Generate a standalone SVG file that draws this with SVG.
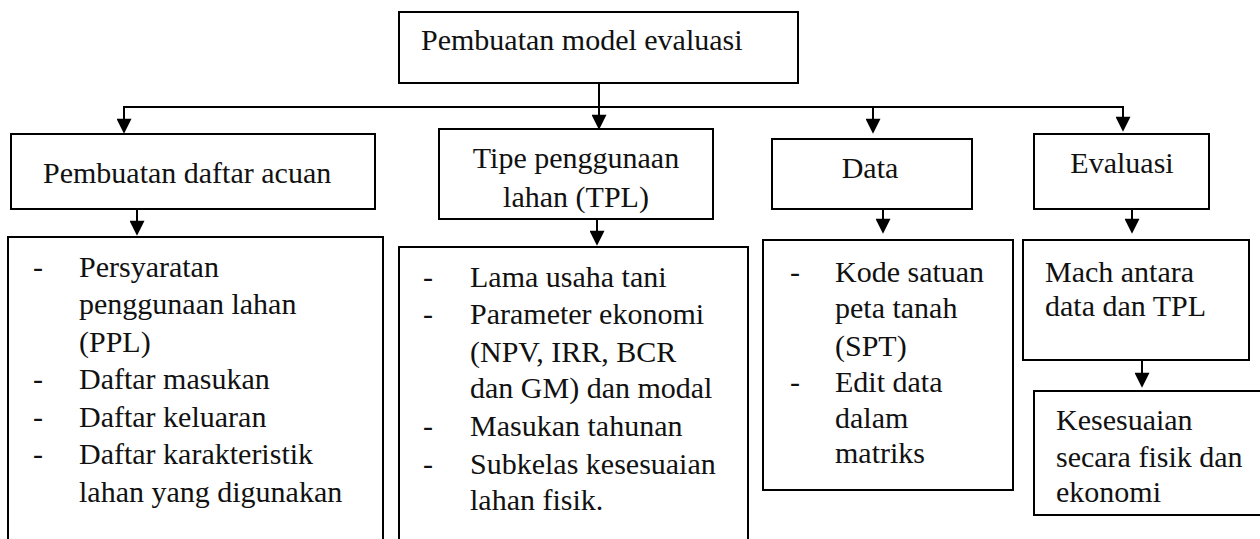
<svg xmlns="http://www.w3.org/2000/svg" width="1260" height="539" viewBox="0 0 1260 539">
<style>
  .box { fill: #ffffff; stroke: #000000; stroke-width: 2; }
  .t { font-family: "Liberation Serif", "Times New Roman", serif; font-size: 30px; fill: #111111; }
  .c { text-anchor: middle; }
  .con { fill: none; stroke: #000000; stroke-width: 2; }
</style>
<defs>
  <marker id="ah" viewBox="0 0 10 10" refX="7.5" refY="5" markerWidth="16" markerHeight="15" markerUnits="userSpaceOnUse" orient="auto">
    <path d="M0,0 L10,5 L0,10 z" fill="#000000"/>
  </marker>
</defs>
<rect width="1260" height="539" fill="#ffffff"/>

<g id="connectors">
  <line class="con" x1="599" y1="83" x2="599" y2="126" marker-end="url(#ah)"/>
  <polyline class="con" points="124,128 124,107 1123,107 1123,128" marker-end="url(#ah)"/>
  <line class="con" x1="124" y1="107" x2="124" y2="130" marker-end="url(#ah)"/>
  <line class="con" x1="873" y1="107" x2="873" y2="130" marker-end="url(#ah)"/>
  <line class="con" x1="137" y1="209" x2="137" y2="232" marker-end="url(#ah)"/>
  <line class="con" x1="597" y1="219" x2="597" y2="242" marker-end="url(#ah)"/>
  <line class="con" x1="883" y1="209" x2="883" y2="230" marker-end="url(#ah)"/>
  <line class="con" x1="1132" y1="209" x2="1132" y2="230" marker-end="url(#ah)"/>
  <line class="con" x1="1142" y1="360" x2="1142" y2="384" marker-end="url(#ah)"/>
</g>

<g id="node-top">
  <rect class="box" x="399" y="12" width="399" height="71"/>
  <text class="t" x="421" y="50">Pembuatan model evaluasi</text>
</g>

<g id="node-daftar">
  <rect class="box" x="11" y="134" width="364" height="75"/>
  <text class="t" x="43" y="183">Pembuatan daftar acuan</text>
</g>

<g id="node-tpl">
  <rect class="box" x="439" y="129" width="274" height="90"/>
  <text class="t c" x="576" y="168">Tipe penggunaan</text>
  <text class="t c" x="576" y="207">lahan (TPL)</text>
</g>

<g id="node-data">
  <rect class="box" x="772" y="139" width="200" height="70"/>
  <text class="t c" x="870" y="178">Data</text>
</g>

<g id="node-evaluasi">
  <rect class="box" x="1034" y="134" width="175" height="75"/>
  <text class="t c" x="1122" y="173">Evaluasi</text>
</g>

<g id="node-daftar-list">
  <rect class="box" x="8" y="237" width="375" height="330"/>
  <text class="t" x="33" y="277">-</text>
  <text class="t" x="79" y="277">Persyaratan</text>
  <text class="t" x="79" y="314">penggunaan lahan</text>
  <text class="t" x="79" y="352">(PPL)</text>
  <text class="t" x="33" y="389">-</text>
  <text class="t" x="79" y="389">Daftar masukan</text>
  <text class="t" x="33" y="427">-</text>
  <text class="t" x="79" y="427">Daftar keluaran</text>
  <text class="t" x="33" y="464">-</text>
  <text class="t" x="79" y="464">Daftar karakteristik</text>
  <text class="t" x="79" y="502">lahan yang digunakan</text>
</g>

<g id="node-tpl-list">
  <rect class="box" x="399" y="247" width="349" height="320"/>
  <text class="t" x="423" y="287">-</text>
  <text class="t" x="470" y="287">Lama usaha tani</text>
  <text class="t" x="423" y="324">-</text>
  <text class="t" x="470" y="324">Parameter ekonomi</text>
  <text class="t" x="470" y="362">(NPV, IRR, BCR</text>
  <text class="t" x="470" y="398">dan GM) dan modal</text>
  <text class="t" x="423" y="436">-</text>
  <text class="t" x="470" y="436">Masukan tahunan</text>
  <text class="t" x="423" y="474">-</text>
  <text class="t" x="470" y="474">Subkelas kesesuaian</text>
  <text class="t" x="470" y="510">lahan fisik.</text>
</g>

<g id="node-data-list">
  <rect class="box" x="763" y="240" width="250" height="250"/>
  <text class="t" x="790" y="282">-</text>
  <text class="t" x="835" y="282">Kode satuan</text>
  <text class="t" x="835" y="318">peta tanah</text>
  <text class="t" x="835" y="356">(SPT)</text>
  <text class="t" x="790" y="392">-</text>
  <text class="t" x="835" y="392">Edit data</text>
  <text class="t" x="835" y="428">dalam</text>
  <text class="t" x="835" y="463">matriks</text>
</g>

<g id="node-mach">
  <rect class="box" x="1023" y="240" width="226" height="120"/>
  <text class="t" x="1045" y="282">Mach antara</text>
  <text class="t" x="1045" y="316">data dan TPL</text>
</g>

<g id="node-kesesuaian">
  <rect class="box" x="1034" y="391" width="240" height="124"/>
  <text class="t" x="1056" y="430">Kesesuaian</text>
  <text class="t" x="1056" y="467">secara fisik dan</text>
  <text class="t" x="1056" y="502">ekonomi</text>
</g>
</svg>
